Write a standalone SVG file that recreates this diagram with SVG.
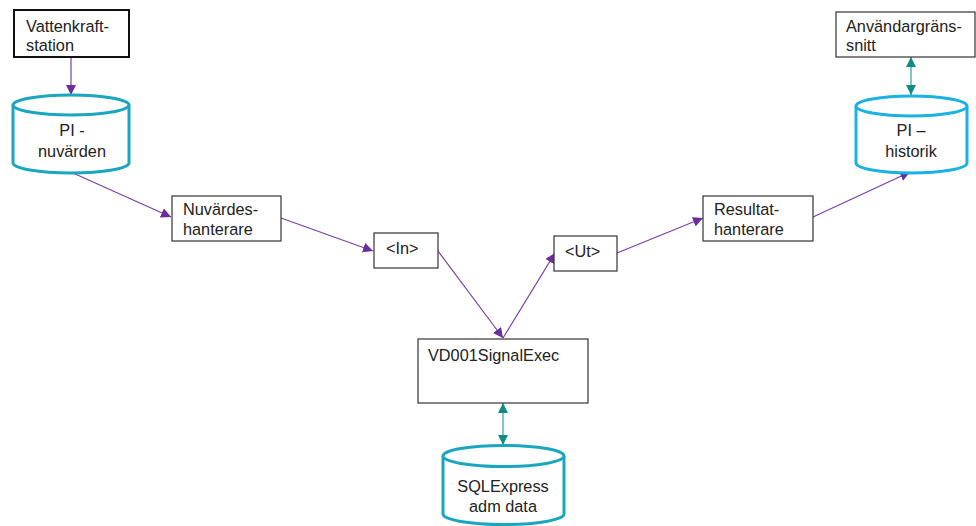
<svg xmlns="http://www.w3.org/2000/svg" width="976" height="526" viewBox="0 0 976 526">
<defs>
<style>
text{font-family:"Liberation Sans",Arial,sans-serif;font-size:16.3px;fill:#222}
.box{fill:#fff;stroke:#333;stroke-width:1.2}
.cyl{fill:#fff;stroke:#1aa6bd;stroke-width:3}
.cyl2{fill:#fff;stroke:#19b2e3;stroke-width:3}
.pl{stroke:#7a3fa8;stroke-width:1.2;fill:none}
.tl{stroke:#4fb8b3;stroke-width:1.5;fill:none}
</style>
<marker id="ap" viewBox="0 0 10 10" refX="10" refY="5" markerWidth="10" markerHeight="10" markerUnits="userSpaceOnUse" orient="auto"><path d="M0,0L10,5L0,10z" fill="#6a2d9e"/></marker>
<marker id="at" viewBox="0 0 10 10" refX="10" refY="5" markerWidth="10" markerHeight="10" markerUnits="userSpaceOnUse" orient="auto-start-reverse"><path d="M0,0L10,5L0,10z" fill="#138a84"/></marker>
</defs>
<rect width="976" height="526" fill="#fff"/>
<g id="connectors">
<line class="pl" x1="71" y1="57" x2="71" y2="95" marker-end="url(#ap)"/>
<line class="pl" x1="73" y1="173" x2="171" y2="217" marker-end="url(#ap)"/>
<line class="pl" x1="281" y1="218" x2="373" y2="251" marker-end="url(#ap)"/>
<line class="pl" x1="438" y1="251" x2="503" y2="338" marker-end="url(#ap)"/>
<line class="pl" x1="503" y1="338" x2="555" y2="253" marker-end="url(#ap)"/>
<line class="pl" x1="617" y1="253" x2="703" y2="218" marker-end="url(#ap)"/>
<line class="pl" x1="813" y1="217" x2="910" y2="172" marker-end="url(#ap)"/>
<line class="tl" x1="911" y1="57" x2="911" y2="95" marker-start="url(#at)" marker-end="url(#at)"/>
<line class="tl" x1="503" y1="403" x2="503" y2="445" marker-start="url(#at)" marker-end="url(#at)"/>
</g>
<g id="vattenkraft">
<rect x="14" y="10" width="115" height="47" fill="#fff" stroke="#111" stroke-width="2"/>
<text x="26" y="32">Vattenkraft-</text>
<text x="26" y="51">station</text>
</g>
<g id="pi-nuvarden">
<path class="cyl" d="M13,105 A58,10 0 0 1 129,105 V163 A58,10 0 0 1 13,163 Z"/>
<path class="cyl" d="M13,105 A58,10 0 0 0 129,105"/>
<text x="72" y="136" text-anchor="middle">PI -</text>
<text x="72" y="157" text-anchor="middle">nuvärden</text>
</g>
<g id="nuvardeshanterare">
<rect class="box" x="172" y="196" width="109" height="45"/>
<text x="183" y="215">Nuvärdes-</text>
<text x="183" y="235">hanterare</text>
</g>
<g id="in">
<rect class="box" x="374" y="233" width="64" height="35"/>
<text x="386" y="254">&lt;In&gt;</text>
</g>
<g id="vd001">
<rect class="box" x="418" y="339" width="170" height="64"/>
<text x="428" y="361">VD001SignalExec</text>
</g>
<g id="ut">
<rect class="box" x="554" y="236" width="63" height="35"/>
<text x="565" y="257">&lt;Ut&gt;</text>
</g>
<g id="resultathanterare">
<rect class="box" x="703" y="196" width="110" height="45"/>
<text x="714" y="215">Resultat-</text>
<text x="714" y="235">hanterare</text>
</g>
<g id="pi-historik">
<path class="cyl2" d="M856,106 A55.5,10 0 0 1 967,106 V163 A55.5,10 0 0 1 856,163 Z"/>
<path class="cyl2" d="M856,106 A55.5,10 0 0 0 967,106"/>
<text x="911" y="136" text-anchor="middle">PI –</text>
<text x="911" y="157" text-anchor="middle">historik</text>
</g>
<g id="anvandargranssnitt">
<rect class="box" x="836" y="12" width="139" height="45"/>
<text x="846" y="32">Användargräns-</text>
<text x="846" y="51">snitt</text>
</g>
<g id="sqlexpress">
<path class="cyl" d="M443,456 A60.5,10.5 0 0 1 564,456 V514 A60.5,10.5 0 0 1 443,514 Z"/>
<path class="cyl" d="M443,456 A60.5,10.5 0 0 0 564,456"/>
<text x="503" y="492" text-anchor="middle">SQLExpress</text>
<text x="503" y="512" text-anchor="middle">adm data</text>
</g>
</svg>
